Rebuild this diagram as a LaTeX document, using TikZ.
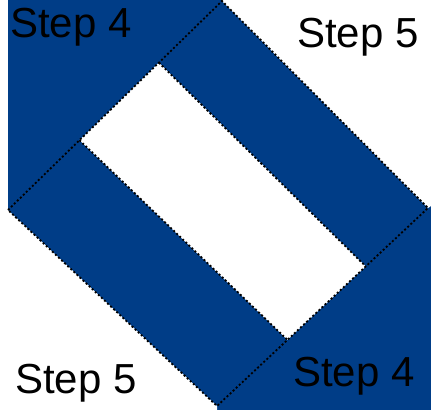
\documentclass[tikz,border=0pt]{standalone}
\usepackage{fontspec}
\setmainfont{Liberation Sans}
\usetikzlibrary{calc}
\definecolor{quiltblue}{RGB}{0,61,135}
\tikzset{
  patch/.style={fill=quiltblue, draw=none},
  seam/.style={draw=black, line width=1.8pt, dash pattern=on 2pt off 2.2pt},
  steplabel/.style={font=\fontsize{42}{48}\selectfont, inner sep=0pt, anchor=base west, text=black}
}
\begin{document}
\begin{tikzpicture}[x=1pt, y=-1pt]
  \useasboundingbox (0,0) rectangle (432,410);
  \coordinate (top) at (222,1);
  \coordinate (right) at (428,208);
  \coordinate (bottom) at (217,406);
  \coordinate (left) at (8,210);
  \coordinate (a1) at ($(top)!0.295!(left)$);
  \coordinate (a2) at ($(top)!0.666!(left)$);
  \coordinate (b1) at ($(right)!0.295!(bottom)$);
  \coordinate (b2) at ($(right)!0.666!(bottom)$);
  % blue ground
  \fill[patch] (8,0) rectangle (431,410);
  % white corners and centre strip
  \fill[white] (top) -- (222,0) -- (431,0) -- (431,206) -- (right) -- cycle;
  \fill[white] (left) -- (bottom) -- (217,410) -- (8,410) -- cycle;
  \fill[white] (a1) -- (b1) -- (b2) -- (a2) -- cycle;
  % seams
  \draw[seam] (left) -- (top) -- (right) -- (bottom) -- cycle;
  \draw[seam] (a1) -- (b1);
  \draw[seam] (a2) -- (b2);
  % labels
  \node (stepfourA) [steplabel] at (10,37) {Step 4};
  \node (stepfiveA) [steplabel] at (297,47) {Step 5};
  \node (stepfiveB) [steplabel] at (15,393) {Step 5};
  \node (stepfourB) [steplabel] at (293,386) {Step 4};
\end{tikzpicture}
\end{document}
